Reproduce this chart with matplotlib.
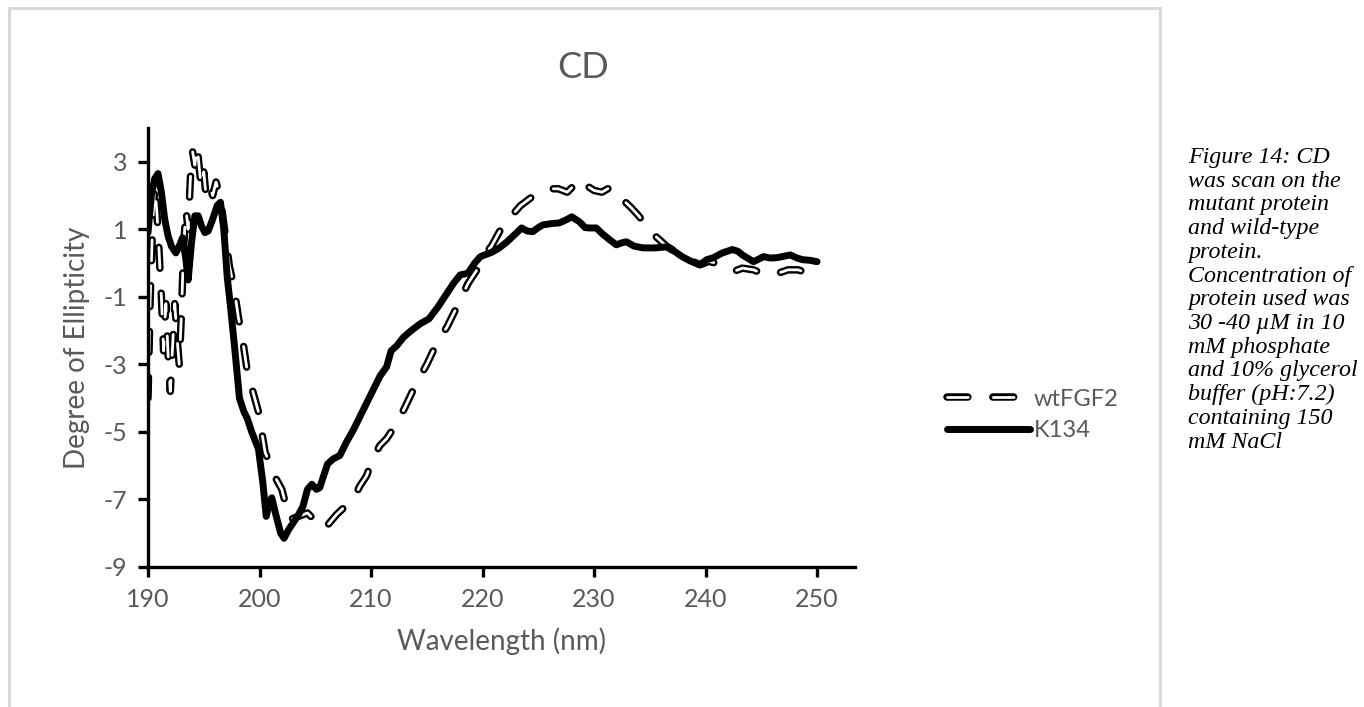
"""CD spectra of wtFGF2 and the K134 mutant."""

import matplotlib

matplotlib.use("Agg")
import matplotlib.patheffects as pe
import matplotlib.pyplot as plt
from matplotlib.lines import Line2D

# wavelength (nm) / ellipticity
wt_nm = [
    190.0, 190.2, 190.4, 190.6, 190.8, 191.0, 191.2, 191.4, 191.6, 191.8,
    192.0, 192.2, 192.4, 192.6, 192.8, 193.0, 193.2, 193.4, 193.6, 193.8,
    194.0, 194.2, 194.4, 194.6, 194.8, 195.0, 195.2, 195.5, 195.8, 196.1,
    196.5, 196.9, 197.3, 197.7, 198.1, 198.5, 198.9, 199.4, 199.9, 200.5,
    201.0, 201.5, 202.0, 202.7, 203.5, 204.3, 204.9, 205.4, 206.0, 206.9,
    207.7, 208.4, 209.0, 209.6, 210.2, 210.8, 211.4, 212.2, 213.0, 214.0,
    215.0, 216.0, 216.8, 217.7, 218.7, 219.5, 220.3, 220.8, 221.8, 222.6,
    223.4, 224.2, 225.0, 226.0, 226.8, 227.6, 228.2, 228.7, 229.3, 230.0,
    230.7, 231.5, 232.5, 233.3, 234.0, 234.8, 235.5, 236.5, 237.5, 238.5,
    239.5, 240.3, 240.9, 241.7, 242.5, 243.3, 244.3, 245.4, 246.5, 247.4,
    248.3, 249.2, 250.0,
]
wt_val = [
    -4.0, -1.0, 1.0, 2.3, 1.5, 0.3, -1.0, -2.6, -1.2, -2.7,
    -3.8, -2.5, -1.2, -2.2, -3.0, -1.5, 0.5, 1.6, 1.0, 2.5,
    3.3, 2.9, 3.5, 2.8, 2.2, 2.7, 2.0, 2.3, 2.0, 2.4,
    1.9, 0.9, -0.1, -0.7, -1.6, -2.3, -3.2, -3.8, -4.4, -5.6,
    -6.0, -6.4, -6.7, -7.6, -7.5, -7.4, -7.6, -7.85, -7.8, -7.45,
    -7.2, -7.0, -6.6, -6.3, -5.75, -5.4, -5.2, -4.8, -4.3, -3.6,
    -3.0, -2.3, -1.9, -1.3, -0.6, -0.2, 0.3, 0.5, 1.1, 1.4,
    1.7, 1.9, 2.1, 2.2, 2.2, 2.1, 2.3, 2.5, 2.3, 2.15,
    2.1, 2.25, 1.9, 1.65, 1.4, 1.05, 0.8, 0.5, 0.3, 0.1,
    -0.05, 0.05, 0.0, -0.15, -0.25, -0.15, -0.2, -0.35, -0.3, -0.2,
    -0.2, -0.3, -0.5,
]

k134_nm = [
    190.0, 190.3, 190.6, 190.9, 191.2, 191.5, 191.8, 192.1, 192.5, 192.8,
    193.1, 193.4, 193.6, 193.9, 194.2, 194.5, 194.8, 195.1, 195.4, 195.8,
    196.2, 196.5, 196.8, 197.1, 197.4, 197.8, 198.2, 198.6, 198.9, 199.3,
    199.9, 200.3, 200.6, 200.9, 201.1, 201.5, 201.9, 202.2, 202.6, 203.0,
    203.5, 203.9, 204.3, 204.7, 205.1, 205.4, 206.1, 206.6, 207.2, 207.8,
    208.4, 209.3, 210.2, 210.8, 211.4, 211.8, 212.3, 212.9, 213.6, 214.4,
    215.2, 216.0, 216.8, 217.4, 218.0, 218.7, 219.3, 219.8, 220.9, 221.5,
    222.2, 222.9, 223.5, 224.0, 224.5, 225.0, 225.4, 226.2, 226.9, 227.5,
    228.0, 228.7, 229.2, 229.6, 230.2, 230.8, 231.4, 232.0, 232.5, 232.9,
    233.6, 234.4, 235.5, 236.5, 237.2, 237.9, 238.7, 239.5, 240.1, 240.7,
    241.5, 242.4, 242.9, 243.3, 244.3, 245.2, 245.8, 246.4, 247.0, 247.6,
    248.2, 248.7, 249.4, 250.0,
]
k134_val = [
    0.9, 2.0, 2.5, 2.65, 2.1, 1.3, 0.8, 0.5, 0.3, 0.5,
    0.75, 0.1, -0.5, 0.6, 1.4, 1.4, 1.1, 0.9, 0.95, 1.3,
    1.7, 1.8, 1.0, -0.4, -1.3, -2.6, -4.0, -4.4, -4.6, -5.0,
    -5.5, -6.5, -7.5, -7.1, -6.95, -7.5, -8.0, -8.15, -7.9, -7.7,
    -7.45, -7.2, -6.7, -6.55, -6.7, -6.65, -5.95, -5.8, -5.7, -5.3,
    -4.95, -4.35, -3.75, -3.35, -3.07, -2.6, -2.45, -2.2, -2.0, -1.8,
    -1.65, -1.3, -0.9, -0.6, -0.35, -0.3, 0.0, 0.19, 0.33, 0.45,
    0.63, 0.85, 1.04, 0.95, 0.93, 1.05, 1.13, 1.17, 1.19, 1.28,
    1.37, 1.22, 1.05, 1.04, 1.04, 0.85, 0.69, 0.54, 0.6, 0.63,
    0.5, 0.45, 0.45, 0.48, 0.35, 0.19, 0.05, -0.05, 0.1, 0.16,
    0.3, 0.4, 0.35, 0.24, 0.04, 0.19, 0.15, 0.16, 0.2, 0.24,
    0.15, 0.1, 0.08, 0.04,
]

x_ticks = [190, 200, 210, 220, 230, 240, 250]
y_ticks = [-9, -7, -5, -3, -1, 1, 3]

caption = (
    "Figure 14: CD\nwas scan on the\nmutant protein\nand wild-type\nprotein.\n"
    "Concentration of\nprotein used was\n30 -40 \u00b5M in 10\nmM phosphate\n"
    "and 10% glycerol\nbuffer (pH:7.2)\ncontaining 150\nmM NaCl"
)

GREY = "#595959"
plt.rcParams["font.family"] = ["Lato", "DejaVu Sans"]
plt.rcParams["lines.scale_dashes"] = False
plt.rcParams["axes.unicode_minus"] = False

fig = plt.figure(figsize=(13.64, 7.07), dpi=100)
ax = fig.add_axes([148 / 1364, 1 - 567 / 707, (855 - 148) / 1364, (567 - 128) / 707])

# chart frame (light grey, open at the bottom)
frame_kw = dict(color="#d9d9d9", lw=2.2, transform=fig.transFigure)
fig.add_artist(Line2D([9 / 1364, 9 / 1364], [0, 1 - 8 / 707], **frame_kw))
fig.add_artist(Line2D([9 / 1364, 1160 / 1364], [1 - 8 / 707, 1 - 8 / 707], **frame_kw))
fig.add_artist(Line2D([1160 / 1364, 1160 / 1364], [0, 1 - 8 / 707], **frame_kw))

# hollow long-dash line for wild type
wt_line, = ax.plot(
    wt_nm, wt_val, color="white", lw=2.0, dashes=(15, 18),
    dash_capstyle="round", solid_joinstyle="round", label="wtFGF2",
    path_effects=[pe.Stroke(linewidth=5.4, foreground="black"), pe.Normal()],
)
k_line, = ax.plot(
    k134_nm, k134_val, color="black", lw=5.0, solid_capstyle="round",
    solid_joinstyle="round", label="K134",
)

ax.set_xlim(190, 253.4)
ax.set_ylim(-9, 4)
ax.set_xticks(x_ticks)
ax.set_yticks(y_ticks)
ax.tick_params(axis="both", direction="out", length=7, width=2.4,
               color="black", labelsize=18, labelcolor=GREY, pad=8)
for side in ("top", "right"):
    ax.spines[side].set_visible(False)
for side in ("left", "bottom"):
    ax.spines[side].set_linewidth(2.4)

ax.set_xlabel("Wavelength (nm)", fontsize=20, color=GREY, labelpad=12)
ax.set_ylabel("Degree of Ellipticity", fontsize=20, color=GREY, labelpad=10)
fig.text(583 / 1364, 1 - 68 / 707, "CD", fontsize=26, color=GREY,
         ha="center", va="center")

leg = fig.legend(
    handles=[wt_line, k_line], loc="center left",
    bbox_to_anchor=(926 / 1364, 1 - 415 / 707), frameon=False,
    fontsize=17, handlelength=3.5, handletextpad=0.15, labelspacing=0.45,
)
for t in leg.get_texts():
    t.set_color(GREY)

fig.text(1188 / 1364, 1 - 147 / 707, caption, fontsize=17.3, style="italic",
         family="Liberation Serif", ha="left", va="top", linespacing=1.17)

fig.savefig("out.png", dpi=100)
